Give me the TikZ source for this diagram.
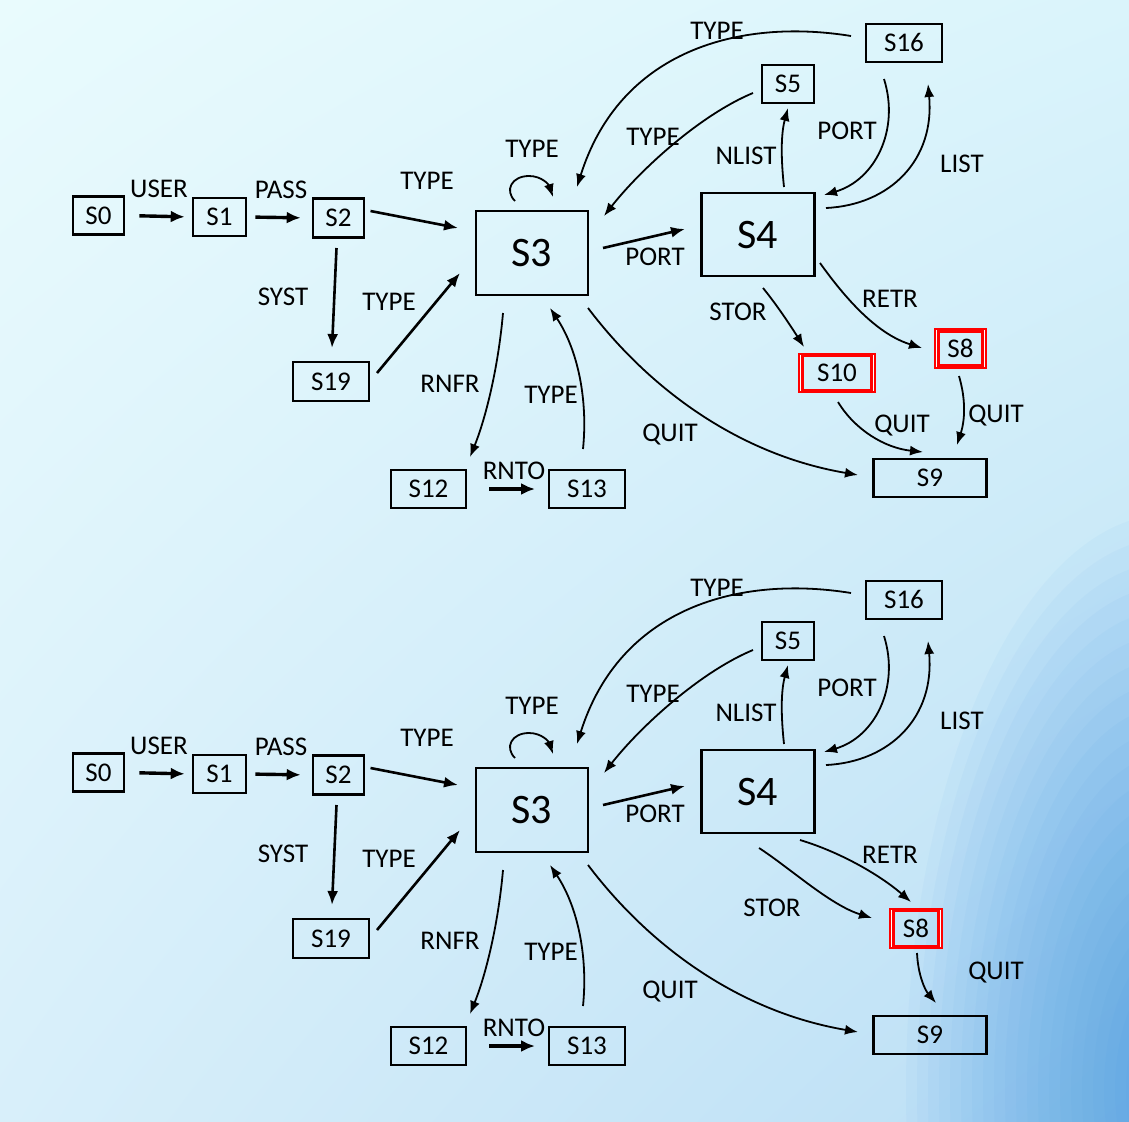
\documentclass[tikz,border=0pt]{standalone}
\usepackage{fontspec}
\setmainfont{Carlito}
\usetikzlibrary{arrows.meta,calc,shadings}

\definecolor{bgUL}{RGB}{233,251,253}
\definecolor{bgUR}{RGB}{218,244,251}
\definecolor{bgLL}{RGB}{216,239,250}
\definecolor{bgLR}{RGB}{186,222,245}
\definecolor{bgDark}{RGB}{60,148,228}
\definecolor{frameRed}{RGB}{255,0,0}

\newcommand\lblfont{\fontsize{27}{30}\selectfont}
\newcommand\stfont{\fontsize{42}{46}\selectfont}

\tikzset{
  box/.style={draw=black, line width=2.6pt, inner sep=0pt, font=\lblfont,
              text height=17pt, text depth=0pt},
  bigbox/.style={box, font=\stfont, text height=27pt},
  redframe/.style={draw=frameRed, line width=4.5pt, inner sep=0pt, font=\lblfont,
              text height=17pt, text depth=0pt},
  lbl/.style={inner sep=0pt, font=\lblfont, text height=17pt, text depth=0pt},
  conn/.style={line width=1.8pt, -{Latex[length=13pt,width=10pt]}},
  heavy/.style={line width=3.4pt, -{Latex[length=14pt,width=12pt]}},
  medium/.style={line width=2.6pt, -{Latex[length=14pt,width=11pt]}},
}

% inner lines of a red double frame: #1 node name
\newcommand\redinner[1]{%
  \draw[white, line width=1.4pt]
    ($(#1.north west)+(2.9pt,-2.2pt)$) -- ($(#1.south west)+(2.9pt,2.2pt)$)
    ($(#1.north east)+(-2.9pt,-2.2pt)$) -- ($(#1.south east)+(-2.9pt,2.2pt)$);
  \draw[frameRed, line width=2.4pt]
    ($(#1.north west)+(4.8pt,-2.2pt)$) -- ($(#1.south west)+(4.8pt,2.2pt)$)
    ($(#1.north east)+(-4.8pt,-2.2pt)$) -- ($(#1.south east)+(-4.8pt,2.2pt)$);
}

\newcommand\commonpart{%
  % nodes
  \node[box, minimum width=51pt, minimum height=38pt] (s0) at (98.5,215.5) {S0};
  \node[box, minimum width=53pt, minimum height=38pt] (s1) at (219.5,217) {S1};
  \node[box, minimum width=51pt, minimum height=39pt] (s2) at (338.5,218) {S2};
  \node[bigbox, minimum width=112pt, minimum height=84pt] (s3) at (532,253) {S3};
  \node[bigbox, minimum width=113pt, minimum height=83pt] (s4) at (758,234.5) {S4};
  \node[box, minimum width=52pt, minimum height=38pt] (s5) at (788,84) {S5};
  \node[box, minimum width=76pt, minimum height=38pt] (s16) at (904,43) {S16};
  \node[box, minimum width=76pt, minimum height=39pt] (s19) at (331,381.5) {S19};
  \node[box, minimum width=75pt, minimum height=38pt] (s12) at (428.5,489) {S12};
  \node[box, minimum width=76pt, minimum height=38pt] (s13) at (587,489) {S13};
  \node[box, minimum width=113pt, minimum height=38pt] (s9) at (930,478) {S9};
  % labels
  \node[lbl] (lUser) at (159,189) {USER};
  \node[lbl] (lPass) at (281,190) {PASS};
  \node[lbl] (lType1) at (427,181) {TYPE};
  \node[lbl] (lSyst) at (283,297) {SYST};
  \node[lbl] (lType2) at (389,302) {TYPE};
  \node[lbl] (lType3) at (532,149) {TYPE};
  \node[lbl] (lPort1) at (655,257) {PORT};
  \node[lbl] (lType4) at (653,137) {TYPE};
  \node[lbl] (lType5) at (717,31) {TYPE};
  \node[lbl] (lNlist) at (746,156) {NLIST};
  \node[lbl] (lPort2) at (847,131) {PORT};
  \node[lbl] (lList) at (962,164) {LIST};
  \node[lbl] (lQuit1) at (670,433) {QUIT};
  \node[lbl] (lRnfr) at (450,384) {RNFR};
  \node[lbl] (lType6) at (551,395) {TYPE};
  \node[lbl] (lRnto) at (514,471) {RNTO};
  % connectors
  \draw[heavy, shorten <=14pt, shorten >=7pt] (s0.east) -- (s1.west);
  \draw[heavy, shorten <=8pt, shorten >=11pt] (s1.east) -- (s2.west);
  \draw[medium] ($(s2)+(32,-7)$) -- ($(s3)+(-74,-25)$);
  \draw[medium] ($(s2)+(-2,30)$) -- ($(s19)+(1,-33.5)$);
  \draw[medium] ($(s19)+(46,-8.5)$) -- ($(s3)+(-72,20)$);
  \draw[medium] ($(s3)+(71,-5)$) -- ($(s4)+(-73,-5.5)$);
  \draw[heavy] ($(s12)+(60.5,0)$) -- ($(s13)+(-52,0)$);
  % self loop on S3
  \draw[conn] ($(s3)+(-17,-52)$) .. controls +(-11,-11) and +(-17,0) .. ($(s3)+(-3,-77)$)
        .. controls +(13,0) and +(-4,-12) .. ($(s3)+(21,-56)$);
  \draw[conn] ($(s5)+(-35,9)$) .. controls +(-53,22) and +(36,-46) .. ($(s3)+(72,-37)$);
  \draw[conn] ($(s16)+(-53,-7)$) .. controls +(-111,-18) and +(43,-137) .. ($(s3)+(45,-66)$);
  \draw[conn] ($(s4)+(26,-47.5)$) .. controls +(-4,-37) and +(-6,22) .. ($(s5)+(0,24)$);
  \draw[conn] ($(s16)+(-20,36)$) .. controls +(16,51) and +(51,-15) .. ($(s4)+(66,-39.5)$);
  \draw[conn] ($(s4)+(68,-26.5)$) .. controls +(64,-3) and +(7,76) .. ($(s16)+(24,41)$);
  \draw[conn] ($(s3)+(56,55)$) .. controls +(62,82) and +(-118,-20) .. ($(s9)+(-72,-3)$);
  \draw[conn] ($(s3)+(-29,60)$) .. controls +(-5,57) and +(15,-37) .. ($(s12)+(41.5,-32)$);
  \draw[conn] ($(s13)+(-4,-40)$) .. controls +(5,-49) and +(28,42) .. ($(s3)+(18,55)$);
}

\begin{document}
\begin{tikzpicture}[x=1pt, y=-1pt]
  \useasboundingbox (0,0) rectangle (1129,1121);
  % background
  \shade[upper left=bgUL, upper right=bgUR, lower left=bgLL, lower right=bgLR]
    (0,0) rectangle (1129,1121);
  \begin{scope}
    \clip (0,0) rectangle (1129,1121);
    \foreach \r in {1,...,24}
      \fill[bgDark, opacity=0.045] (1170,1090) ellipse [x radius={11*\r}, y radius={24*\r}];
  \end{scope}

  % ---------- top diagram ----------
  \commonpart
  \node[redframe, minimum width=74pt, minimum height=36pt] (s10) at (837,373) {S10};
  \redinner{s10}
  \node[redframe, minimum width=49pt, minimum height=36pt] (s8) at (960.5,348.5) {S8};
  \redinner{s8}
  \node[lbl] (lRetr) at (890,299) {RETR};
  \node[lbl] (lStor) at (738,312) {STOR};
  \node[lbl] (lQuit2) at (902,424) {QUIT};
  \node[lbl] (lQuit3) at (996,414) {QUIT};
  \draw[conn] ($(s4)+(62,28.5)$) .. controls +(30,42) and +(-42,-13) .. ($(s8)+(-38.5,-0.5)$);
  \draw[conn] ($(s4)+(5,53.5)$) .. controls +(14,17) and +(-12,-19) .. ($(s10)+(-33,-26)$);
  \draw[conn] ($(s10)+(1,29)$) .. controls +(17,28) and +(-38,-4) .. ($(s9)+(-7,-26)$);
  \draw[conn] ($(s8)+(-1.5,27.5)$) .. controls +(7,24) and +(8,-25) .. ($(s9)+(27,-33)$);

  % ---------- bottom diagram ----------
  \begin{scope}[shift={(0,557)}, name prefix=b]
    \commonpart
    \node[redframe, minimum width=50pt, minimum height=37pt] (s8) at (916,371.5) {S8};
    \redinner{s8}
    \node[lbl] (lRetr) at (890,298) {RETR};
    \node[lbl] (lStor) at (772,351) {STOR};
    \node[lbl] (lQuit3) at (996,414) {QUIT};
    \draw[conn] ($(s4)+(42,48.5)$) .. controls +(40,12) and +(-31,-27) .. ($(s8)+(-5,-26.5)$);
    \draw[conn] ($(s4)+(1,56.5)$) .. controls +(31,20) and +(-42,-13) .. ($(s8)+(-44,-10.5)$);
    \draw[conn] ($(s8)+(1,24.5)$) .. controls +(1,22) and +(-11,-13) .. ($(s9)+(6,-32)$);
  \end{scope}
\end{tikzpicture}
\end{document}
